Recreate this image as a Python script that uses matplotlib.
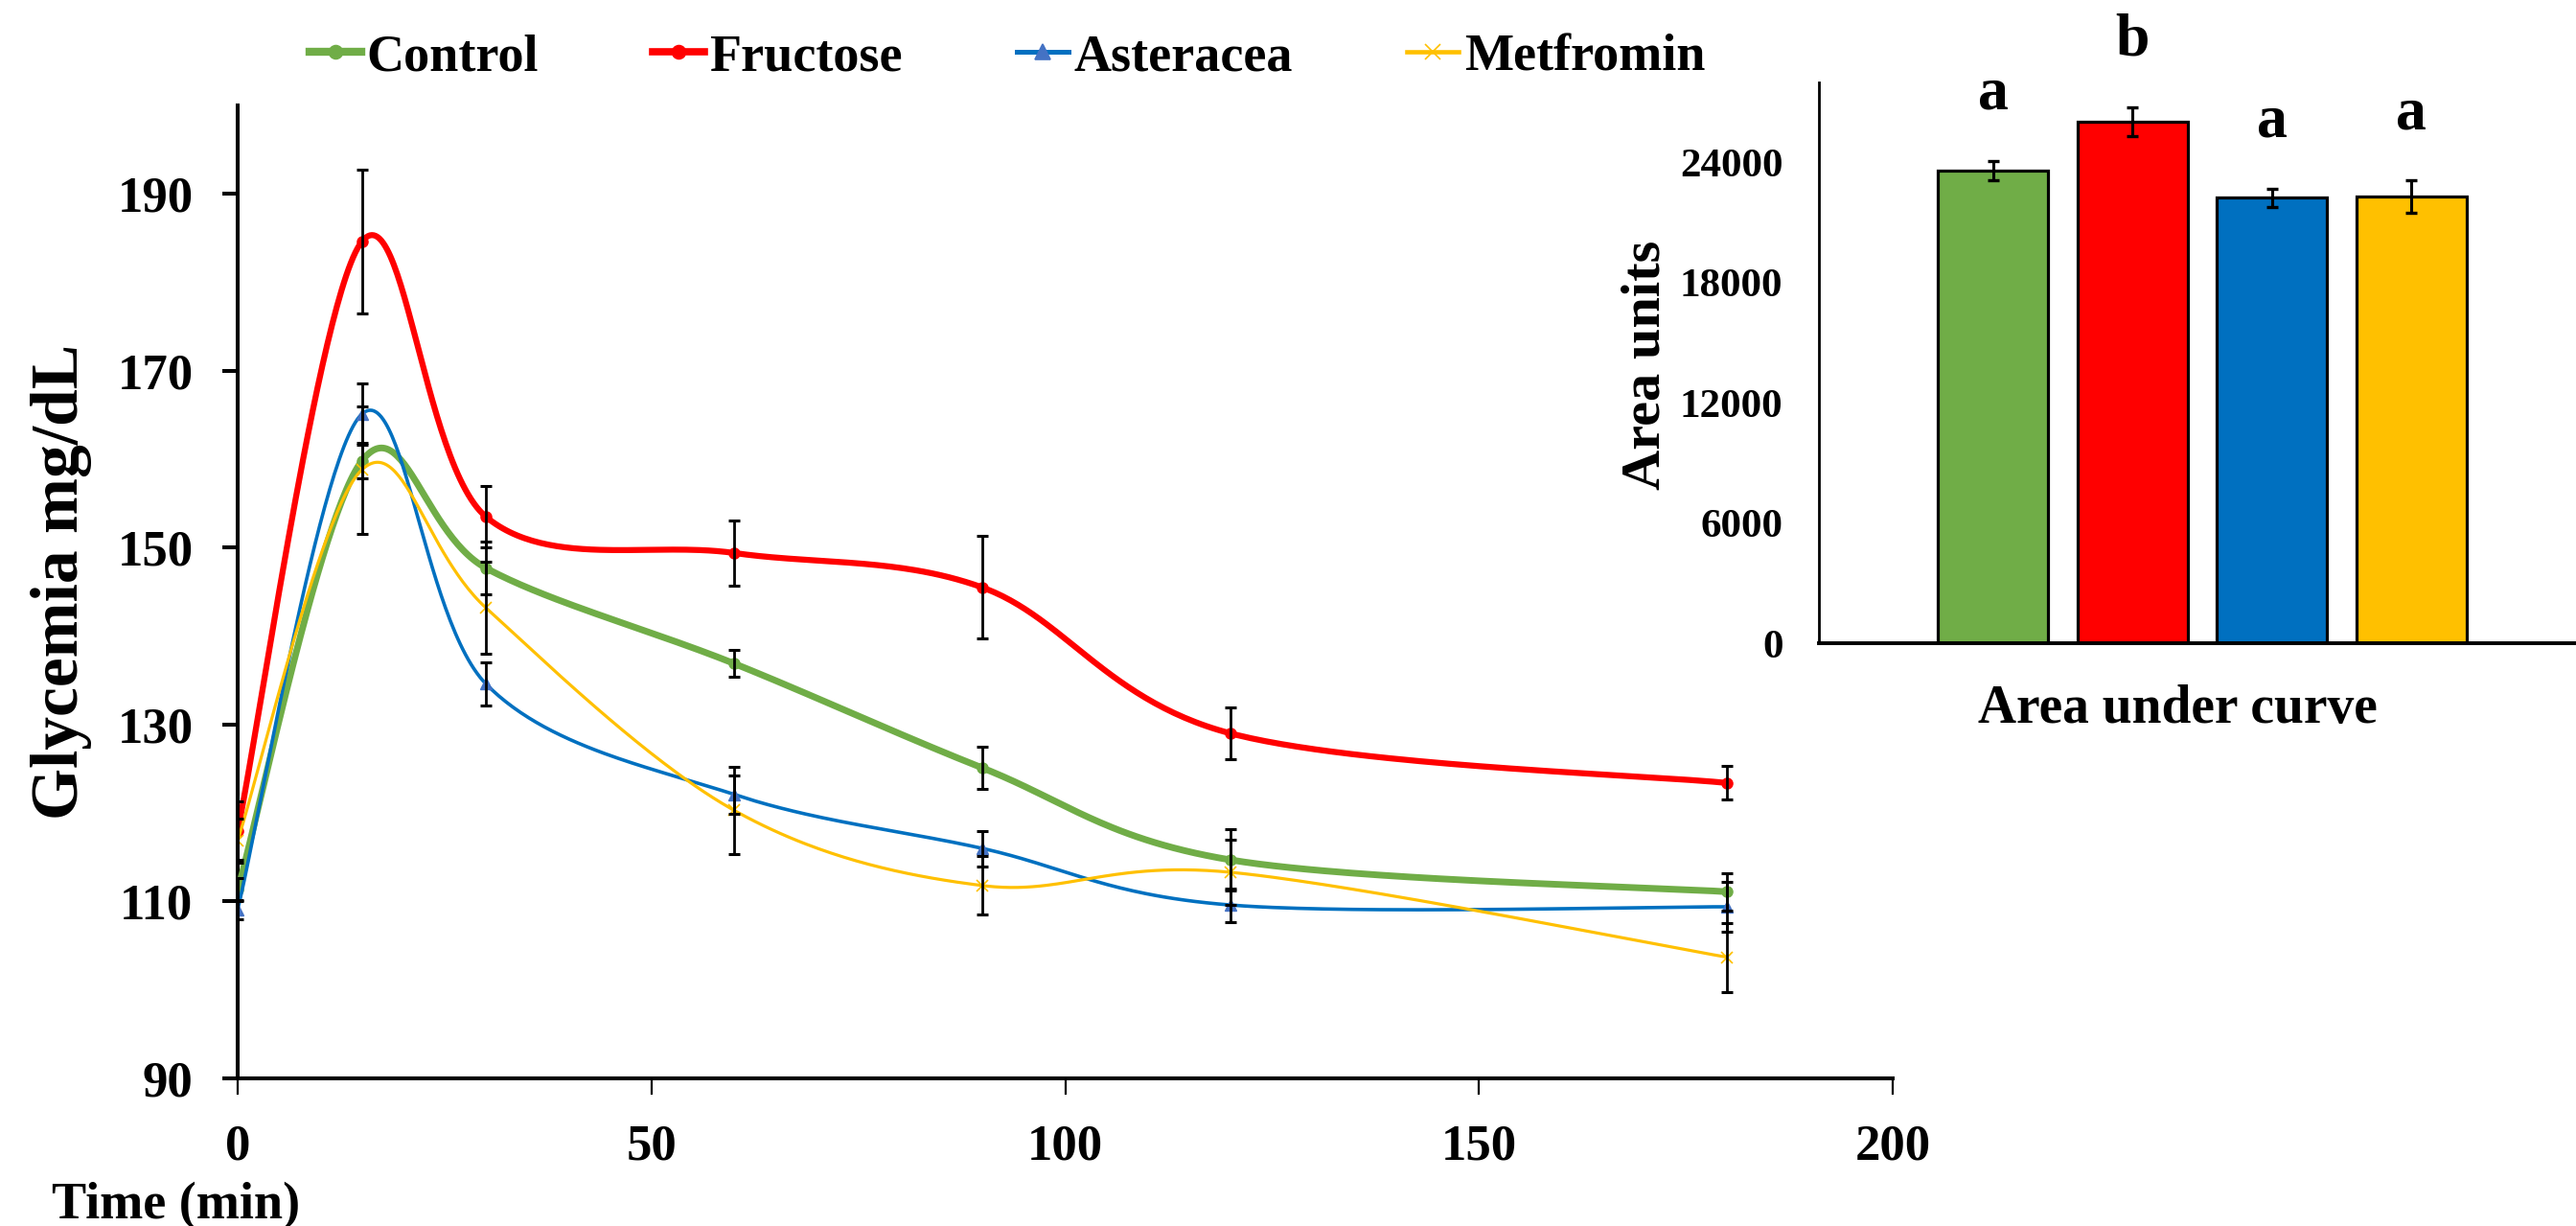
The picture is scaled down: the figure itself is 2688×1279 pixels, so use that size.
import numpy as np
import matplotlib
matplotlib.use("Agg")
import matplotlib.pyplot as plt
from matplotlib.lines import Line2D

plt.rcParams['font.family'] = ['Liberation Serif', 'DejaVu Serif']
plt.rcParams['font.weight'] = 'bold'

# ---------------- data ----------------
time = [0, 15, 30, 60, 90, 120, 180]
series_names = ['Control', 'Fructose', 'Asteracea', 'Metfromin']
control = [111.3, 159.8, 147.7, 136.9, 125.1, 114.7, 111.1]
control_err = [1.3, 2.0, 3.0, 1.5, 2.4, 3.5, 2.1]
fructose = [118.0, 184.6, 153.5, 149.4, 145.5, 129.0, 123.4]
fructose_err = [3.3, 8.1, 3.5, 3.7, 5.8, 2.9, 1.9]
asteracea = [109.1, 165.1, 134.6, 122.1, 116.0, 109.6, 109.4]
asteracea_err = [1.1, 3.5, 2.4, 2.2, 2.0, 1.9, 2.8]
metfromin = [116.9, 158.8, 143.2, 120.3, 111.8, 113.3, 103.7]
metfromin_err = [2.5, 7.2, 5.2, 4.9, 3.3, 3.7, 3.9]

auc = [23600, 26040, 22250, 22300]
auc_err = [480, 730, 450, 820]
auc_letters = ['a', 'b', 'a', 'a']

x_ticks = [0, 50, 100, 150, 200]
y_ticks = [90, 110, 130, 150, 170, 190]
auc_ticks = [0, 6000, 12000, 18000, 24000]

# ---------------- styles ----------------
line_colors = ['#70AD47', '#FF0000', '#0070C0', '#FFC000']
marker_colors = ['#70AD47', '#FF0000', '#4472C4', '#FFC000']
bar_colors = ['#70AD47', '#FF0000', '#0070C0', '#FFC000']
markers = ['o', 'o', '^', 'x']
lws = [5.0, 4.5, 2.6, 2.3]
msizes = [8, 8, 9, 9]

W, H = 2688, 1279
fig = plt.figure(figsize=(W / 100, H / 100), dpi=100)

ax = fig.add_axes([248 / W, 1 - 1125 / H, (1975 - 248) / W, (1125 - 110) / H])
ax.set_xlim(0, 200)
ax.set_ylim(90, 200)
ax.set_xticks(x_ticks)
ax.set_yticks(y_ticks)
for s in ['top', 'right']:
    ax.spines[s].set_visible(False)
for s in ['left', 'bottom']:
    ax.spines[s].set_linewidth(2.9)
ax.tick_params(axis='y', direction='out', length=11.5, width=2.9, pad=22, labelsize=38)
ax.tick_params(axis='x', direction='out', length=12, width=1.6, pad=22, labelsize=38)


def smooth_curve(axis, xs, ys, n=60):
    pts = axis.transData.transform(np.column_stack([xs, ys]))
    m = len(pts)
    out = []
    for i in range(m - 1):
        p0 = pts[i - 1] if i > 0 else pts[i]
        p1 = pts[i]
        p2 = pts[i + 1]
        p3 = pts[i + 2] if i + 2 < m else pts[i + 1]
        c1 = p1 + (p2 - p0) / 6.0
        c2 = p2 - (p3 - p1) / 6.0
        t = np.linspace(0, 1, n)[:, None]
        seg = ((1 - t) ** 3) * p1 + 3 * ((1 - t) ** 2) * t * c1 + 3 * (1 - t) * t ** 2 * c2 + t ** 3 * p2
        out.append(seg if i == 0 else seg[1:])
    out = np.vstack(out)
    d = axis.transData.inverted().transform(out)
    return d[:, 0], d[:, 1]


all_vals = [control, fructose, asteracea, metfromin]
all_errs = [control_err, fructose_err, asteracea_err, metfromin_err]
handles = []
for k, (vals, errs) in enumerate(zip(all_vals, all_errs)):
    sx, sy = smooth_curve(ax, time, vals)
    ax.plot(sx, sy, color=line_colors[k], lw=lws[k], zorder=3 + k, solid_capstyle='round')
    ax.plot(time, vals, linestyle='none', marker=markers[k], color=marker_colors[k],
            markersize=msizes[k], markeredgewidth=1.2 if markers[k] == 'x' else 1,
            zorder=3 + k)
    ax.errorbar(time, vals, yerr=errs, fmt='none', ecolor='black', elinewidth=2.0,
                capsize=4.2, capthick=2.2, zorder=10)
    handles.append(Line2D([], [], color=line_colors[k], lw=lws[k] + 1, marker=markers[k],
                          markerfacecolor=marker_colors[k], markeredgecolor=marker_colors[k],
                          markersize=msizes[k] + 2, markeredgewidth=1.2))

fig.legend(handles, series_names, loc='center', bbox_to_anchor=(1051 / W, 1 - 60 / H),
           ncol=4, frameon=False, fontsize=39, handlelength=1.0, handletextpad=0.1,
           columnspacing=2.2)

fig.text(64 / W, 1 - 607 / H, 'Glycemia mg/dL', rotation=90, ha='center', va='center',
         fontsize=50)
fig.text(54 / W, 1 - 1258 / H, 'Time (min)', ha='left', va='center', fontsize=39)

# ---------------- inset bar chart ----------------
ax2 = fig.add_axes([1898 / W, 1 - 671 / H, 800 / W, (671 - 86) / H])
ax2.set_xlim(-0.5, 0.5)
ax2.set_ylim(0, 28000)
ax2.set_yticks(auc_ticks)
ax2.set_xticks([])
for s in ['top', 'right']:
    ax2.spines[s].set_visible(False)
ax2.spines['left'].set_linewidth(2.0)
ax2.spines['bottom'].set_linewidth(2.8)
ax2.tick_params(axis='y', length=0, pad=27, labelsize=31)

n = len(auc)
spacing = 0.182
xpos = [(i - (n - 1) / 2) * spacing for i in range(n)]
ax2.bar(xpos, auc, width=0.144, color=bar_colors, edgecolor='black', linewidth=2.3, zorder=2)
ax2.errorbar(xpos, auc, yerr=auc_err, fmt='none', ecolor='black', elinewidth=2.2,
             capsize=4.3, capthick=2.4, zorder=3)
for xp, v, e, lab in zip(xpos, auc, auc_err, auc_letters):
    ax2.text(xp, v + e + 3300, lab, ha='center', va='center', fontsize=46, clip_on=False)

fig.text(1718 / W, 1 - 381 / H, 'Area units', rotation=90, ha='center', va='center',
         fontsize=42)
fig.text(2272 / W, 1 - 740 / H, 'Area under curve', ha='center', va='center', fontsize=40)

fig.savefig('out.png', dpi=100)
